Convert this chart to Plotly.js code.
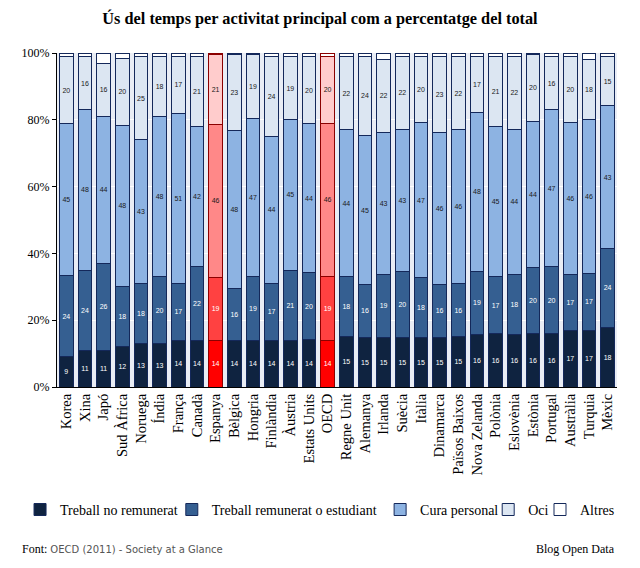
<!DOCTYPE html>
<html>
<head>
<meta charset="utf-8">
<script src="https://cdn.plot.ly/plotly-3.0.1.min.js"></script>
<style>
  html, body { margin: 0; padding: 0; background: #ffffff; }
  #chart { width: 640px; height: 568px; }
</style>
</head>
<body>
<div id="chart"></div>
<script>
// Time use by main activity, share of the total (%)
const countries = ['Korea', 'Xina', 'Japó', 'Sud Àfrica', 'Noruega', 'Índia', 'França', 'Canadà',
  'Espanya', 'Bèlgica', 'Hongria', 'Finlàndia', 'Àustria', 'Estats Units', 'OECD', 'Regne Unit',
  'Alemanya', 'Irlanda', 'Suècia', 'Itàlia', 'Dinamarca', 'Països Baixos', 'Nova Zelanda',
  'Polònia', 'Eslovènia', 'Estònia', 'Portugal', 'Austràlia', 'Turquia', 'Mèxic'];

const treballNoRemunerat = [9, 11, 11, 12, 13, 13, 14, 14, 14, 14, 14, 14, 14, 14, 14, 15,
  15, 15, 15, 15, 15, 15, 16, 16, 16, 16, 16, 17, 17, 18];
const treballRemunerat = [24, 24, 26, 18, 18, 20, 17, 22, 19, 16, 19, 17, 21, 20, 19, 18,
  16, 19, 20, 18, 16, 16, 19, 17, 18, 20, 20, 17, 17, 24];
const curaPersonal = [45, 48, 44, 48, 43, 48, 51, 42, 46, 48, 47, 44, 45, 44, 46, 44,
  45, 43, 43, 47, 46, 46, 48, 45, 44, 44, 47, 46, 46, 43];
const oci = [20, 16, 16, 20, 25, 18, 17, 21, 21, 23, 19, 24, 19, 20, 20, 22,
  24, 22, 22, 20, 23, 22, 17, 21, 22, 20, 16, 20, 18, 15];
const altres = [1, 1, 3, 1.5, 1, 1, 1, 1, 0.5, 0.5, 0.5, 1, 1, 1, 1, 1,
  1, 2, 1, 1, 1, 1, 1, 1, 1, 0.5, 1, 1, 2, 1];

const yTicks = [0, 20, 40, 60, 80, 100];
const yTickText = yTicks.map(v => v + '%');

const highlighted = ['Espanya', 'OECD'];

const seriesNames = ['Treball no remunerat', 'Treball remunerat o estudiant', 'Cura personal', 'Oci', 'Altres'];
const seriesValues = [treballNoRemunerat, treballRemunerat, curaPersonal, oci, altres];
const blueShades = ['#0f2340', '#355f91', '#8db3e2', '#dce6f2', '#ffffff'];
const redShades = ['#ff0000', '#ff4141', '#ff8888', '#ffcccc', '#ffffff'];
const textColours = ['#ffffff', '#ffffff', '#1a1a1a', '#1a1a1a', '#1a1a1a'];
// each series gets its own legend box so the row can be spaced freely
const legendIds = ['legend', 'legend2', 'legend3', 'legend4', 'legend5'];
const legendX = [-0.066, 0.205, 0.577, 0.77, 0.8625];

const isHi = countries.map(c => highlighted.includes(c));

const traces = seriesValues.map((vals, i) => ({
  type: 'bar',
  name: seriesNames[i],
  legend: legendIds[i],
  x: countries,
  y: vals,
  text: i < 4 ? vals.map(v => String(v)) : undefined,
  textposition: i < 4 ? 'inside' : 'none',
  insidetextanchor: 'middle',
  textangle: 0,
  constraintext: 'none',
  textfont: { family: 'Liberation Sans, Arial, sans-serif', size: 7, color: textColours[i] },
  marker: {
    color: isHi.map(h => h ? redShades[i] : blueShades[i]),
    line: { color: isHi.map(h => h ? '#8b0000' : '#14285a'), width: 1 }
  },
  hovertemplate: '%{x}: %{y}%<extra>' + seriesNames[i] + '</extra>'
}));

const serif = 'Liberation Serif, DejaVu Serif, serif';

const layout = {
  width: 640,
  height: 568,
  barmode: 'stack',
  barnorm: 'percent',
  bargap: 0.28,
  paper_bgcolor: '#ffffff',
  plot_bgcolor: '#e9edf5',
  margin: { l: 57, r: 23, t: 53, b: 181 },
  title: {
    text: '<b>Ús del temps per activitat principal com a percentatge del total</b>',
    font: { family: serif, size: 16.3, color: '#000000' },
    x: 0.5, xanchor: 'center', y: 0.968, yanchor: 'middle'
  },
  xaxis: {
    type: 'category',
    tickangle: -90,
    tickfont: { family: serif, size: 14.5, color: '#000000' },
    showline: true, linecolor: '#000000', linewidth: 1,
    ticks: '', showgrid: false
  },
  yaxis: {
    range: [0, 100],
    tickvals: yTicks,
    ticktext: yTickText,
    tickfont: { family: serif, size: 12, color: '#000000' },
    showline: true, linecolor: '#000000', linewidth: 1,
    ticks: 'outside', ticklen: 4, tickcolor: '#000000',
    gridcolor: '#ffffff', gridwidth: 1,
    zeroline: false
  },
  showlegend: true,
  annotations: [
    {
      xref: 'paper', yref: 'paper', x: -0.066, y: -0.486,
      xanchor: 'left', yanchor: 'middle', showarrow: false,
      text: 'Font: <span style="color:#555555;font-family:DejaVu Sans, sans-serif;font-size:10px">OECD (2011) - Society at a Glance</span>',
      font: { family: serif, size: 12, color: '#000000' }
    },
    {
      xref: 'paper', yref: 'paper', x: 1.0, y: -0.486,
      xanchor: 'right', yanchor: 'middle', showarrow: false,
      text: 'Blog Open Data',
      font: { family: serif, size: 12, color: '#000000' }
    }
  ]
};

legendIds.forEach((id, i) => {
  layout[id] = {
    orientation: 'h',
    x: legendX[i], xanchor: 'left',
    y: -0.368, yanchor: 'middle',
    font: { family: serif, size: 14, color: '#000000' },
    bgcolor: 'rgba(0,0,0,0)',
    borderwidth: 0
  };
});

Plotly.newPlot('chart', traces, layout, { displayModeBar: false, staticPlot: true });
</script>
</body>
</html>
